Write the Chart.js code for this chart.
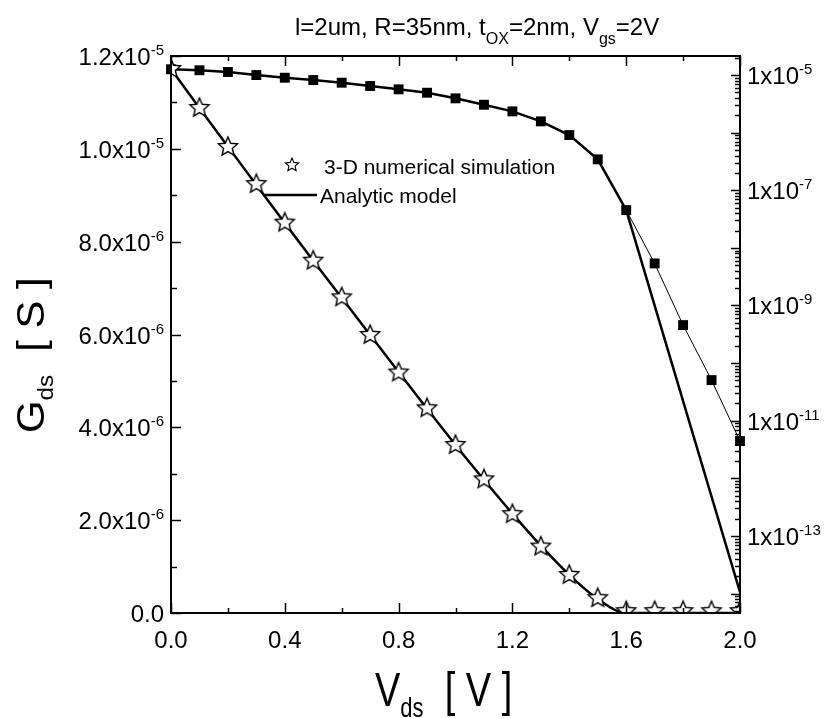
<!DOCTYPE html>
<html>
<head>
<meta charset="utf-8">
<script src="https://cdn.jsdelivr.net/npm/chart.js@4.4.0/dist/chart.umd.min.js"></script>
<style>
    html, body { margin: 0; padding: 0; background: #fff; }
    #wrap { width: 826px; height: 718px; }
</style>
</head>
<body>
<div id="wrap"><canvas id="chart" width="826" height="718"></canvas></div>
<script>
// V_ds sweep [V]
const vds = [0.0, 0.1, 0.2, 0.3, 0.4, 0.5, 0.6, 0.7, 0.8, 0.9, 1.0,
             1.1, 1.2, 1.3, 1.4, 1.5, 1.6, 1.7, 1.8, 1.9, 2.0];

// G_ds, linear scale (left axis) [S]
const simLin = [11.72e-6, 10.88e-6, 10.04e-6, 9.24e-6, 8.41e-6, 7.59e-6, 6.80e-6,
                5.99e-6, 5.18e-6, 4.41e-6, 3.62e-6, 2.88e-6, 2.13e-6, 1.43e-6,
                0.82e-6, 0.32e-6, 0.04e-6, 0.04e-6, 0.04e-6, 0.04e-6, 0.04e-6];
const modelLin = [11.72e-6, 10.88e-6, 10.05e-6, 9.22e-6, 8.40e-6, 7.59e-6, 6.79e-6,
                  5.99e-6, 5.19e-6, 4.40e-6, 3.62e-6, 2.87e-6, 2.14e-6, 1.45e-6,
                  0.82e-6, 0.30e-6, 0, 0, 0, 0, 0];

// G_ds, log scale (right axis) [S]
const simLog = [1.26e-5, 1.21e-5, 1.13e-5, 1.0e-5, 8.98e-6, 8.19e-6, 7.36e-6,
                6.45e-6, 5.65e-6, 4.93e-6, 3.94e-6, 3.05e-6, 2.34e-6, 1.57e-6,
                9.08e-7, 3.44e-7, 4.53e-8, 5.37e-9, 4.57e-10, 5.07e-11, 4.43e-12];
const modelLogX = [0.0, 0.1, 0.2, 0.3, 0.4, 0.5, 0.6, 0.7, 0.8, 0.9, 1.0,
                   1.1, 1.2, 1.3, 1.4, 1.5, 1.6, 2.0];
const modelLog = [1.26e-5, 1.21e-5, 1.13e-5, 1.0e-5, 8.98e-6, 8.19e-6, 7.36e-6,
                  6.45e-6, 5.65e-6, 4.93e-6, 3.94e-6, 3.05e-6, 2.34e-6, 1.57e-6,
                  9.08e-7, 3.44e-7, 4.53e-8, 1.06e-14];

// tick labels
const xTicks = [0.0, 0.4, 0.8, 1.2, 1.6, 2.0];
const xTickLabels = ['0.0', '0.4', '0.8', '1.2', '1.6', '2.0'];
const leftTicks = [0, 2e-6, 4e-6, 6e-6, 8e-6, 1e-5, 1.2e-5];
const leftTickLabels = ['0.0', '2.0x10^-6', '4.0x10^-6', '6.0x10^-6', '8.0x10^-6', '1.0x10^-5', '1.2x10^-5'];
const rightTicks = [1e-5, 1e-7, 1e-9, 1e-11, 1e-13];
const rightTickLabels = ['1x10^-5', '1x10^-7', '1x10^-9', '1x10^-11', '1x10^-13'];

const FONT = '"Liberation Sans", Arial, Helvetica, sans-serif';

function starPath(ctx, x, y, R, r) {
    ctx.beginPath();
    for (let i = 0; i < 10; i++) {
        const a = -Math.PI / 2 + i * Math.PI / 5;
        const rad = i % 2 === 0 ? R : r;
        const px = x + rad * Math.cos(a), py = y + rad * Math.sin(a);
        if (i === 0) ctx.moveTo(px, py); else ctx.lineTo(px, py);
    }
    ctx.closePath();
}

function makeStar(size, R, r, lw) {
    const c = document.createElement('canvas');
    c.width = size; c.height = size;
    const g = c.getContext('2d');
    starPath(g, size / 2, size / 2, R, r);
    g.fillStyle = '#fff';
    g.fill();
    g.lineWidth = lw;
    g.strokeStyle = '#000';
    g.lineJoin = 'miter';
    g.stroke();
    return c;
}

const starImg = makeStar(24, 10, 4.6, 1.4);

// text with optional superscript / subscript parts
function drawParts(ctx, x, y, parts, align) {
    let total = 0;
    parts.forEach(p => {
        ctx.font = p.font;
        p.w = ctx.measureText(p.t).width;
        total += p.w;
    });
    let cx = x;
    if (align === 'right') cx = x - total;
    if (align === 'center') cx = x - total / 2;
    parts.forEach(p => {
        ctx.font = p.font;
        ctx.fillText(p.t, cx, y + (p.dy || 0));
        cx += p.w;
    });
}

function tickParts(label) {
    const [base, sup] = label.split('^');
    const parts = [{ t: base, font: '24px ' + FONT }];
    if (sup) parts.push({ t: sup, font: '15px ' + FONT, dy: -10 });
    return parts;
}

const decorations = {
    id: 'decorations',
    afterDraw(chart) {
        const ctx = chart.ctx;
        const a = chart.chartArea;
        const sx = chart.scales.x, sy = chart.scales.y, sy2 = chart.scales.y2;
        ctx.save();
        ctx.strokeStyle = '#000';
        ctx.fillStyle = '#000';
        ctx.textBaseline = 'alphabetic';

        // frame
        ctx.lineWidth = 2;
        ctx.strokeRect(a.left, a.top, a.right - a.left, a.bottom - a.top);

        // x ticks (bottom + top, inward)
        ctx.lineWidth = 1.5;
        for (let i = 0; i <= 10; i++) {
            const px = Math.round(sx.getPixelForValue(i * 0.2)) + 0.5;
            const len = i % 2 === 0 ? 10 : 5;
            ctx.beginPath();
            ctx.moveTo(px, a.bottom); ctx.lineTo(px, a.bottom - len);
            ctx.moveTo(px, a.top); ctx.lineTo(px, a.top + len);
            ctx.stroke();
        }
        // left ticks
        for (let i = 0; i <= 12; i++) {
            const py = Math.round(sy.getPixelForValue(i * 1e-6)) + 0.5;
            const len = i % 2 === 0 ? 10 : 6;
            ctx.beginPath();
            ctx.moveTo(a.left, py); ctx.lineTo(a.left + len, py);
            ctx.stroke();
        }
        // right log ticks
        for (let k = -15; k <= -5; k++) {
            for (let m = 1; m <= 9; m++) {
                const v = m * Math.pow(10, k);
                if (v < sy2.min || v > sy2.max) continue;
                const py = Math.round(sy2.getPixelForValue(v)) + 0.5;
                const len = m === 1 ? 9 : 5;
                ctx.beginPath();
                ctx.moveTo(a.right, py); ctx.lineTo(a.right - len, py);
                ctx.stroke();
            }
        }

        // tick labels
        xTicks.forEach((v, i) => {
            drawParts(ctx, sx.getPixelForValue(v), a.bottom + 35, [{ t: xTickLabels[i], font: '24px ' + FONT }], 'center');
        });
        leftTicks.forEach((v, i) => {
            drawParts(ctx, a.left - 7, sy.getPixelForValue(v) + 9, tickParts(leftTickLabels[i]), 'right');
        });
        rightTicks.forEach((v, i) => {
            drawParts(ctx, a.right + 7, sy2.getPixelForValue(v) + 9, tickParts(rightTickLabels[i]), 'left');
        });

        // title
        const tf = '24px ' + FONT, tsf = '16px ' + FONT;
        drawParts(ctx, 295, 35, [
            { t: 'l=2um, R=35nm, t', font: tf },
            { t: 'OX', font: tsf, dy: 9 },
            { t: '=2nm, V', font: tf },
            { t: 'gs', font: tsf, dy: 9 },
            { t: '=2V', font: tf }
        ], 'left');

        // x axis title
        ctx.save();
        ctx.translate(375, 706);
        ctx.scale(1, 1.25);
        drawParts(ctx, 0, 0, [
            { t: 'V', font: '38px ' + FONT },
            { t: 'ds', font: '22px ' + FONT, dy: 9 },
            { t: '  [ V ]', font: '38px ' + FONT }
        ], 'left');
        ctx.restore();

        // y axis title
        ctx.save();
        ctx.translate(44, 433);
        ctx.rotate(-Math.PI / 2);
        ctx.scale(1.1, 1);
        drawParts(ctx, 0, 0, [
            { t: 'G', font: '38px ' + FONT },
            { t: 'ds', font: '22px ' + FONT, dy: 9 },
            { t: '  [ S ]', font: '38px ' + FONT }
        ], 'left');
        ctx.restore();

        // legend
        ctx.drawImage(makeStar(16, 7, 3.2, 1.1), 292 - 8, 165 - 8);
        drawParts(ctx, 324, 174, [{ t: '3-D numerical simulation', font: '21px ' + FONT }], 'left');
        ctx.lineWidth = 2.5;
        ctx.beginPath();
        ctx.moveTo(263, 195); ctx.lineTo(317, 195);
        ctx.stroke();
        drawParts(ctx, 320, 203, [{ t: 'Analytic model', font: '21px ' + FONT }], 'left');

        ctx.restore();
    }
};

const toXY = (xs, ys) => xs.map((x, i) => ({ x: x, y: ys[i] }));

new Chart(document.getElementById('chart'), {
    type: 'line',
    data: {
        datasets: [
            {
                label: '3-D numerical simulation',
                data: toXY(vds, simLin),
                yAxisID: 'y',
                showLine: false,
                pointStyle: starImg,
                pointRadius: 10,
                clip: 0,
                order: 0
            },
            {
                label: 'Analytic model',
                data: toXY(vds, modelLin),
                yAxisID: 'y',
                borderColor: '#000',
                borderWidth: 2.5,
                pointRadius: 0,
                cubicInterpolationMode: 'monotone',
                order: 1
            },
            {
                label: 'simulation (log)',
                data: toXY(vds, simLog),
                yAxisID: 'y2',
                borderColor: '#000',
                borderWidth: 1,
                pointStyle: 'rect',
                pointRadius: 7,
                pointBorderWidth: 0,
                pointBackgroundColor: '#000',
                clip: false,
                order: 2
            },
            {
                label: 'model (log)',
                data: toXY(modelLogX, modelLog),
                yAxisID: 'y2',
                borderColor: '#000',
                borderWidth: 2.5,
                pointRadius: 0,
                order: 3
            }
        ]
    },
    options: {
        responsive: false,
        animation: false,
        devicePixelRatio: 1,
        layout: { padding: { top: 56, left: 0, right: 0, bottom: 0 } },
        plugins: { legend: { display: false }, tooltip: { enabled: false } },
        scales: {
            x: {
                type: 'linear', min: 0, max: 2.0,
                ticks: { display: false }, grid: { display: false }, border: { display: false },
                afterFit(s) { s.height = 105; }
            },
            y: {
                type: 'linear', position: 'left', min: 0, max: 1.2e-5,
                ticks: { display: false }, grid: { display: false }, border: { display: false },
                afterFit(s) { s.width = 171; }
            },
            y2: {
                type: 'logarithmic', position: 'right', min: 4.6e-15, max: 2.14e-5,
                ticks: { display: false }, grid: { display: false }, border: { display: false },
                afterFit(s) { s.width = 86; }
            }
        }
    },
    plugins: [decorations]
});
</script>
</body>
</html>
